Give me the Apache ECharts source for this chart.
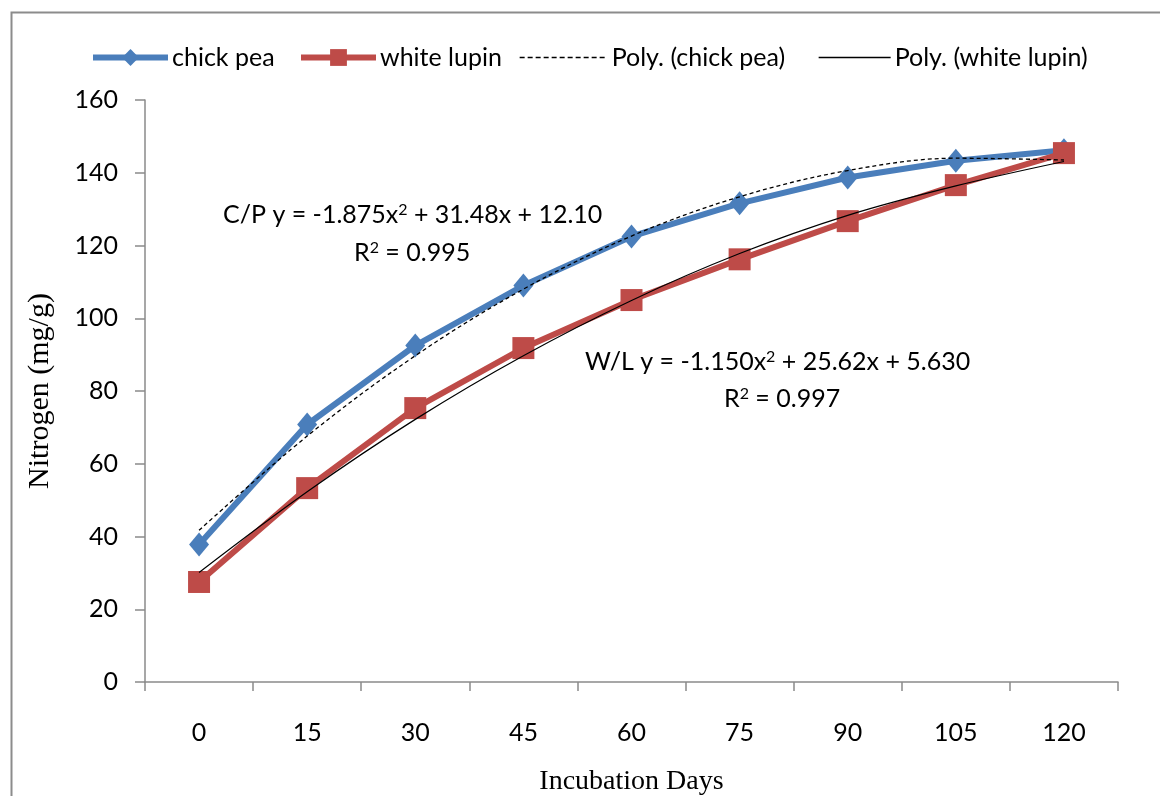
<!DOCTYPE html>
<html>
<head>
<meta charset="utf-8">
<script src="https://cdn.jsdelivr.net/npm/echarts@6/dist/echarts.min.js"></script>
<style>
html,body{margin:0;padding:0;background:#fff;}
#c{width:1160px;height:796px;}
</style>
</head>
<body>
<div id="c"></div>
<script>
const categories = ['0','15','30','45','60','75','90','105','120'];
const chickPea = [37.8, 70.8, 92.5, 109, 122.5, 131.6, 138.7, 143.3, 146.2];
const whiteLupin = [27.5, 53.3, 75.3, 91.8, 105, 116.2, 126.7, 136.6, 145.4];
const polyChickPea = [41.7, 67.6, 89.7, 108, 122.6, 133.4, 140.6, 144, 143.5];
const polyWhiteLupin = [30.1, 52.3, 72.2, 89.7, 104.9, 117.8, 128.3, 136.4, 143.1];
const yTicks = [0, 20, 40, 60, 80, 100, 120, 140, 160];

const labelFont = 'Lato, "Open Sans", sans-serif';
const serif = '"Liberation Serif", "DejaVu Serif", serif';
const BLUE = '#4a7ebb', RED = '#be4b48';

function legendItem(name, left, width, extra) {
  return Object.assign({
    top: 40, left: left,
    itemWidth: width, itemHeight: 21, itemGap: 0,
    textStyle: {fontFamily: labelFont, fontSize: 25, color: '#000', padding: [0,0,0,-1]},
    data: [name]
  }, extra || {});
}

const chart = echarts.init(document.getElementById('c'), null, {renderer:'canvas'});
chart.setOption({
  backgroundColor: '#fff',
  animation: false,
  grid: {left: 145, right: 42, top: 100, bottom: 114, containLabel: false, outerBoundsMode: 'none'},
  legend: [
    legendItem('chick pea', 85, 75, {data: [{name: 'chick pea', lineStyle: {width: 6}}]}),
    legendItem('white lupin', 293, 75, {data: [{name: 'white lupin', lineStyle: {width: 6}}]}),
    legendItem('Poly. (chick pea)', 514, 88, {data: [{name: 'Poly. (chick pea)', itemStyle: {opacity: 0}, lineStyle: {width: 1.3, type: [5, 3]}}]}),
    legendItem('Poly. (white lupin)', 813, 72, {data: [{name: 'Poly. (white lupin)', itemStyle: {opacity: 0}, lineStyle: {width: 1.3}}]})
  ],
  xAxis: {
    type: 'category',
    data: categories,
    boundaryGap: true,
    name: 'Incubation Days',
    nameLocation: 'middle',
    nameGap: 86,
    nameTextStyle: {fontFamily: serif, fontSize: 28, color: '#000'},
    axisLine: {lineStyle: {color: '#8a8a8a', width: 1.5}},
    axisTick: {show: true, length: 9, lineStyle: {color: '#8a8a8a', width: 1.5}},
    axisLabel: {fontFamily: labelFont, fontSize: 25, color: '#000', margin: 38},
    splitLine: {show: false}
  },
  yAxis: {
    type: 'value',
    min: yTicks[0], max: yTicks[yTicks.length-1], interval: 20,
    name: 'Nitrogen (mg/g)',
    nameLocation: 'middle',
    nameGap: 90,
    nameRotate: 90,
    nameTextStyle: {fontFamily: serif, fontSize: 30, color: '#000'},
    axisLine: {show: true, lineStyle: {color: '#8a8a8a', width: 1.5}},
    axisTick: {show: true, length: 10, lineStyle: {color: '#8a8a8a', width: 1.5}},
    axisLabel: {fontFamily: labelFont, fontSize: 25, color: '#000', margin: 27},
    splitLine: {show: false}
  },
  series: [
    {
      name: 'chick pea', type: 'line', data: chickPea,
      symbol: 'diamond', symbolSize: [20, 24],
      lineStyle: {color: BLUE, width: 6},
      itemStyle: {color: BLUE},
      z: 2
    },
    {
      name: 'white lupin', type: 'line', data: whiteLupin,
      symbol: 'rect', symbolSize: 22,
      lineStyle: {color: RED, width: 6},
      itemStyle: {color: RED},
      z: 2
    },
    {
      name: 'Poly. (chick pea)', type: 'line', data: polyChickPea,
      smooth: 0.35, symbol: 'none',
      lineStyle: {color: '#000', width: 1.3, type: [4, 3]},
      itemStyle: {color: 'rgba(0,0,0,0)'},
      z: 3
    },
    {
      name: 'Poly. (white lupin)', type: 'line', data: polyWhiteLupin,
      smooth: 0.35, symbol: 'none',
      lineStyle: {color: '#000', width: 1.2},
      itemStyle: {color: 'rgba(0,0,0,0)'},
      z: 3
    }
  ],
  graphic: [
    {type: 'rect', left: 9, top: 10, shape: {width: 1160, height: 800},
     style: {fill: 'none', stroke: '#8c8c8c', lineWidth: 2}, silent: true, z: -1},
    {type: 'text', left: 223, top: 202,
     style: {text: 'C/P y = -1.875x{s|2} + 31.48x + 12.10', font: '25px ' + labelFont, fill: '#000',
             rich: {s: {fontSize: 16, fontFamily: labelFont, verticalAlign: 'top', fill: '#000'}}}},
    {type: 'text', left: 354, top: 240,
     style: {text: 'R{s|2} = 0.995', font: '25px ' + labelFont, fill: '#000',
             rich: {s: {fontSize: 16, fontFamily: labelFont, verticalAlign: 'top', fill: '#000'}}}},
    {type: 'text', left: 585, top: 349,
     style: {text: 'W/L y = -1.150x{s|2} + 25.62x + 5.630', font: '25px ' + labelFont, fill: '#000',
             rich: {s: {fontSize: 16, fontFamily: labelFont, verticalAlign: 'top', fill: '#000'}}}},
    {type: 'text', left: 724, top: 386,
     style: {text: 'R{s|2} = 0.997', font: '25px ' + labelFont, fill: '#000',
             rich: {s: {fontSize: 16, fontFamily: labelFont, verticalAlign: 'top', fill: '#000'}}}}
  ]
});
</script>
</body>
</html>
